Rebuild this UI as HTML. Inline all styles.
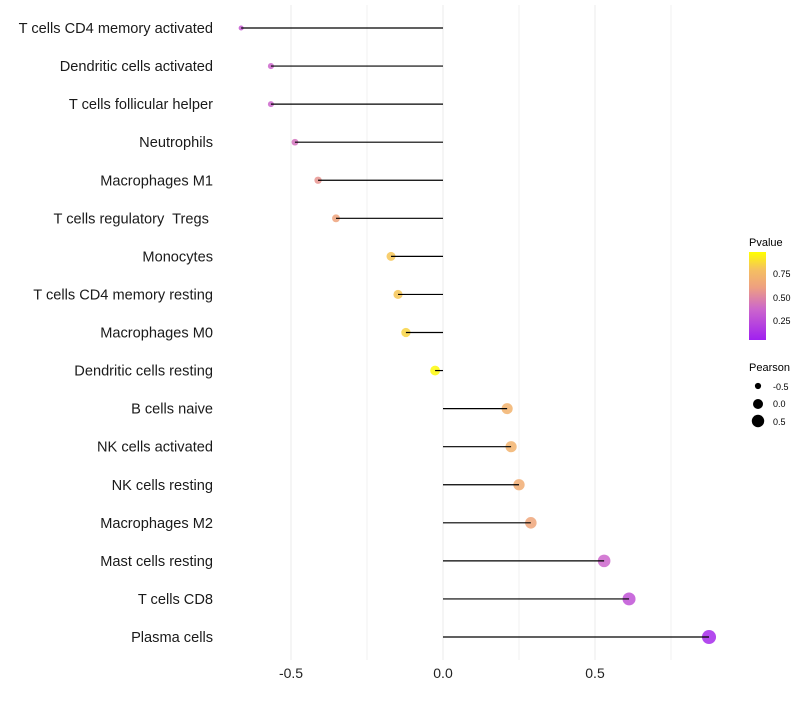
<!DOCTYPE html>
<html><head><meta charset="utf-8"><style>
body{margin:0;background:#fff}
svg text{font-family:"Liberation Sans",sans-serif}
</style></head><body>
<svg id="chart" width="800" height="700">
<defs><linearGradient id="pg" x1="0" y1="1" x2="0" y2="0">
<stop offset="0" stop-color="#a020f0"/><stop offset="0.35" stop-color="#cc66cc"/><stop offset="0.6" stop-color="#eea080"/><stop offset="0.8" stop-color="#f5c060"/><stop offset="1" stop-color="#ffff00"/>
</linearGradient></defs>
<g id="grid"></g><g id="marks"></g><g id="labels"></g>
<g>
<text x="749" y="246" font-size="11">Pvalue</text>
<rect x="749" y="252" width="17" height="88" fill="url(#pg)"/>
<text x="773" y="277" font-size="9">0.75</text>
<text x="773" y="301" font-size="9">0.50</text>
<text x="773" y="324" font-size="9">0.25</text>
</g>
<g>
<text x="749" y="371" font-size="11">Pearson</text>
<circle cx="758" cy="386" r="3.1"/><text x="773" y="390" font-size="9">-0.5</text>
<circle cx="758" cy="404" r="5"/><text x="773" y="407" font-size="9">0.0</text>
<circle cx="758" cy="421" r="6.2"/><text x="773" y="425" font-size="9">0.5</text>
</g>
</svg>
<script>
const categories=["T cells CD4 memory activated","Dendritic cells activated","T cells follicular helper","Neutrophils","Macrophages M1","T cells regulatory  Tregs ","Monocytes","T cells CD4 memory resting","Macrophages M0","Dendritic cells resting","B cells naive","NK cells activated","NK cells resting","Macrophages M2","Mast cells resting","T cells CD8","Plasma cells"];
const pearson=[-0.664,-0.566,-0.566,-0.487,-0.411,-0.352,-0.171,-0.148,-0.122,-0.026,0.211,0.224,0.25,0.289,0.53,0.612,0.875];
const pvalue=[0.3,0.35,0.35,0.4,0.55,0.62,0.82,0.82,0.86,0.98,0.72,0.72,0.68,0.64,0.35,0.25,0.05];
const tickLabels=["-0.5","0.0","0.5"];
const tickValues=[-0.5,0,0.5];
const minorValues=[-0.25,0.25,0.75];
const NS="http://www.w3.org/2000/svg";
const xs=v=>443+v*304;
const ys=i=>28+i*(609/16);
const rs=v=>Math.sqrt(Math.max(1,25+28*v));
const stops=[[0,[160,32,240]],[0.35,[204,102,204]],[0.6,[238,160,128]],[0.8,[245,192,96]],[1,[255,255,0]]];
function col(p){for(let i=1;i<stops.length;i++){if(p<=stops[i][0]){const a=stops[i-1],b=stops[i],t=(p-a[0])/(b[0]-a[0]);return "rgb("+a[1].map((c,k)=>Math.round(c+(b[1][k]-c)*t)).join(",")+")";}}return "rgb(255,255,0)";}
function mk(tag,attrs,parent){const e=document.createElementNS(NS,tag);for(const k in attrs)e.setAttribute(k,attrs[k]);document.getElementById(parent).appendChild(e);return e;}
minorValues.forEach(v=>{const l=mk("line",{x1:xs(v),x2:xs(v),y1:5,y2:660,stroke:"#f2f2f2","stroke-width":1},"grid");

});
tickValues.forEach((v,i)=>{const l=mk("line",{x1:xs(v),x2:xs(v),y1:5,y2:660,stroke:"#ebebeb","stroke-width":1},"grid");


const t=mk("text",{x:xs(v),y:678,"font-size":14,"text-anchor":"middle",fill:"#222"},"labels");t.textContent=tickLabels[i];

});
categories.forEach((c,i)=>{const y=ys(i);
const d=mk("circle",{cx:xs(pearson[i]),cy:y,r:rs(pearson[i]),fill:col(pvalue[i]),"fill-opacity":0.85},"marks");


const l=mk("line",{x1:xs(0),x2:xs(pearson[i]),y1:y,y2:y,stroke:"#000","stroke-width":1.2},"marks");


const t=mk("text",{x:213,y:y+5,"font-size":14.6,"text-anchor":"end",fill:"#1a1a1a",style:"white-space:pre"},"labels");t.textContent=c;

});
</script>
</body></html>
